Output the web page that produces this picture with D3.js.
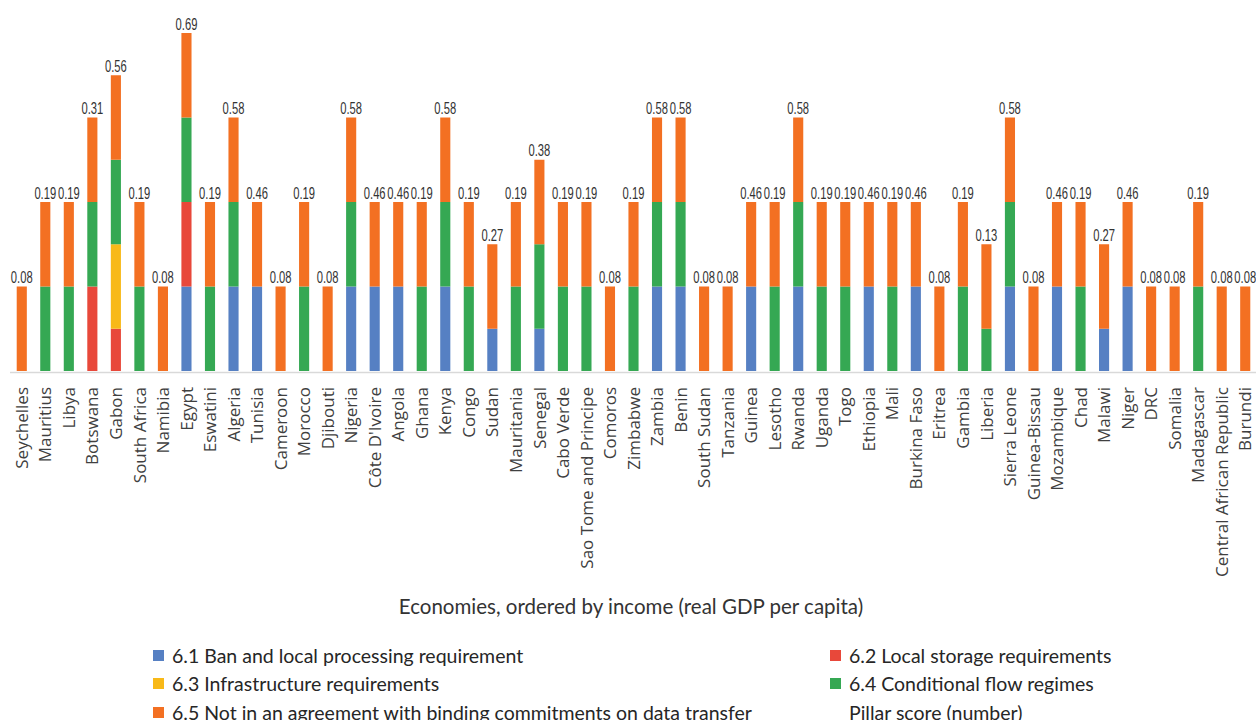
<!DOCTYPE html>
<html>
<head>
<meta charset="utf-8">
<script src="https://cdn.jsdelivr.net/npm/d3@7"></script>
<style>
  html, body { margin: 0; padding: 0; background: #fff; }
  svg { display: block; }
</style>
</head>
<body>
<svg id="chart" width="1256" height="720"></svg>
<script>
// Economies, ordered by income (real GDP per capita)
const countries = [
  "Seychelles", "Mauritius", "Libya", "Botswana", "Gabon", "South Africa", "Namibia",
  "Egypt", "Eswatini", "Algeria", "Tunisia", "Cameroon", "Morocco", "Djibouti",
  "Nigeria", "Côte D'Ivoire", "Angola", "Ghana", "Kenya", "Congo", "Sudan",
  "Mauritania", "Senegal", "Cabo Verde", "Sao Tome and Principe", "Comoros",
  "Zimbabwe", "Zambia", "Benin", "South Sudan", "Tanzania", "Guinea", "Lesotho",
  "Rwanda", "Uganda", "Togo", "Ethiopia", "Mali", "Burkina Faso", "Eritrea",
  "Gambia", "Liberia", "Sierra Leone", "Guinea-Bissau", "Mozambique", "Chad",
  "Malawi", "Niger", "DRC", "Somalia", "Madagascar", "Central African Republic", "Burundi"
];

// Indicator levels (1 = applies, 0.5 = partially applies)
const banLocalProcessing = [
  0, 0, 0, 0, 0, 0, 0, 1, 0, 1, 1, 0, 0, 0, 1, 1, 1, 0, 1, 0, 0.5, 0, 0.5, 0, 0, 0, 0,
  1, 1, 0, 0, 1, 0, 1, 0, 0, 1, 0, 1, 0, 0, 0, 1, 0, 1, 0, 0.5, 1, 0, 0, 0, 0, 0
];
const localStorageReq = [
  0, 0, 0, 1, 0.5, 0, 0, 1, 0, 0, 0, 0, 0, 0, 0, 0, 0, 0, 0, 0, 0, 0, 0, 0, 0, 0, 0,
  0, 0, 0, 0, 0, 0, 0, 0, 0, 0, 0, 0, 0, 0, 0, 0, 0, 0, 0, 0, 0, 0, 0, 0, 0, 0
];
const infrastructureReq = [
  0, 0, 0, 0, 1, 0, 0, 0, 0, 0, 0, 0, 0, 0, 0, 0, 0, 0, 0, 0, 0, 0, 0, 0, 0, 0, 0,
  0, 0, 0, 0, 0, 0, 0, 0, 0, 0, 0, 0, 0, 0, 0, 0, 0, 0, 0, 0, 0, 0, 0, 0, 0, 0
];
const conditionalFlow = [
  0, 1, 1, 1, 1, 1, 0, 1, 1, 1, 0, 0, 1, 0, 1, 0, 0, 1, 1, 1, 0, 1, 1, 1, 1, 0, 1,
  1, 1, 0, 0, 0, 1, 1, 1, 1, 0, 1, 0, 0, 1, 0.5, 1, 0, 0, 1, 0, 0, 0, 0, 1, 0, 0
];
const noBindingAgreement = [
  1, 1, 1, 1, 1, 1, 1, 1, 1, 1, 1, 1, 1, 1, 1, 1, 1, 1, 1, 1, 1, 1, 1, 1, 1, 1, 1,
  1, 1, 1, 1, 1, 1, 1, 1, 1, 1, 1, 1, 1, 1, 1, 1, 1, 1, 1, 1, 1, 1, 1, 1, 1, 1
];

// Pillar score (number) shown above each bar
const pillarScore = [
  0.08, 0.19, 0.19, 0.31, 0.56, 0.19, 0.08, 0.69, 0.19, 0.58, 0.46, 0.08, 0.19, 0.08,
  0.58, 0.46, 0.46, 0.19, 0.58, 0.19, 0.27, 0.19, 0.38, 0.19, 0.19, 0.08, 0.19,
  0.58, 0.58, 0.08, 0.08, 0.46, 0.19, 0.58, 0.19, 0.19, 0.46, 0.19, 0.46, 0.08,
  0.19, 0.13, 0.58, 0.08, 0.46, 0.19, 0.27, 0.46, 0.08, 0.08, 0.19, 0.08, 0.08
];

const seriesNames = [
  "6.1 Ban and local processing requirement",
  "6.2 Local storage requirements",
  "6.3 Infrastructure requirements",
  "6.4 Conditional flow regimes",
  "6.5 Not in an agreement with binding commitments on data transfer"
];
const seriesValues = [banLocalProcessing, localStorageReq, infrastructureReq, conditionalFlow, noBindingAgreement];
const seriesColors = ["#5680c3", "#e8483a", "#f8b918", "#35a853", "#f37022"];
const scoreLabel = "Pillar score (number)";
const xTitle = "Economies, ordered by income (real GDP per capita)";

const svg = d3.select("#chart");

const baseY = 371;
const x = d3.scaleBand().domain(countries).range([10, 1257]).paddingInner(0.57).paddingOuter(0.285);
const y = d3.scaleLinear().domain([0, 4]).range([baseY, baseY - 4 * 84.5]);

const rows = countries.map((c, i) => {
  const r = { country: c, score: pillarScore[i] };
  seriesNames.forEach((s, k) => { r[s] = seriesValues[k][i]; });
  return r;
});
const stacked = d3.stack().keys(seriesNames)(rows);

// Stacked bars
svg.append("g").selectAll("g")
  .data(stacked)
  .join("g")
  .attr("fill", (d, i) => seriesColors[i])
  .selectAll("rect")
  .data(d => d.filter(p => p[1] - p[0] > 0))
  .join("rect")
  .attr("x", p => x(p.data.country))
  .attr("width", x.bandwidth())
  .attr("y", p => y(p[1]))
  .attr("height", p => y(p[0]) - y(p[1]));

// Category axis
const xAxis = svg.append("g")
  .attr("transform", `translate(0,${baseY + 1})`)
  .call(d3.axisBottom(x).tickSize(0).tickPadding(0));
xAxis.select(".domain").attr("stroke", "#d9d9d9").attr("stroke-width", 1.5)
  .attr("d", "M10,0.5H1256");
xAxis.selectAll("text")
  .attr("transform", "rotate(-90)")
  .attr("text-anchor", "end")
  .attr("x", -15)
  .attr("y", 0)
  .attr("dy", "0.36em")
  .attr("font-family", "'Open Sans', sans-serif")
  .attr("font-size", 17)
  .attr("fill", "#404040");

// Pillar score labels (narrow figures)
const stackTop = rows.map((r, i) => d3.sum(seriesValues, s => s[i]));
svg.append("g").selectAll("text")
  .data(rows)
  .join("text")
  .attr("transform", (d, i) =>
    `translate(${x(d.country) + x.bandwidth() / 2},${y(stackTop[i]) - 3.5}) scale(0.68,1)`)
  .attr("text-anchor", "middle")
  .attr("font-family", "'Liberation Sans', Arial, sans-serif")
  .attr("font-size", 16.5)
  .attr("fill", "#333")
  .text(d => d3.format(".2f")(d.score));

// Axis title
svg.append("text")
  .attr("x", 631)
  .attr("y", 614)
  .attr("text-anchor", "middle")
  .attr("font-family", "Lato, sans-serif")
  .attr("font-size", 20.5)
  .attr("fill", "#333")
  .text(xTitle);

// Legend
const legendItems = [
  { name: seriesNames[0], color: seriesColors[0], x: 153, y: 656 },
  { name: seriesNames[1], color: seriesColors[1], x: 830, y: 656 },
  { name: seriesNames[2], color: seriesColors[2], x: 153, y: 684 },
  { name: seriesNames[3], color: seriesColors[3], x: 830, y: 684 },
  { name: seriesNames[4], color: seriesColors[4], x: 153, y: 713 },
  { name: scoreLabel, color: null, x: 830, y: 713 }
];
const legend = svg.append("g").selectAll("g").data(legendItems).join("g")
  .attr("transform", d => `translate(${d.x},${d.y})`);
legend.filter(d => d.color)
  .append("rect")
  .attr("x", 0).attr("y", -6).attr("width", 11).attr("height", 11)
  .attr("fill", d => d.color);
legend.append("text")
  .attr("x", 19)
  .attr("y", 0)
  .attr("dy", "0.35em")
  .attr("font-family", "Lato, sans-serif")
  .attr("font-size", 19.5)
  .attr("fill", "#262626")
  .text(d => d.name);
</script>
</body>
</html>
